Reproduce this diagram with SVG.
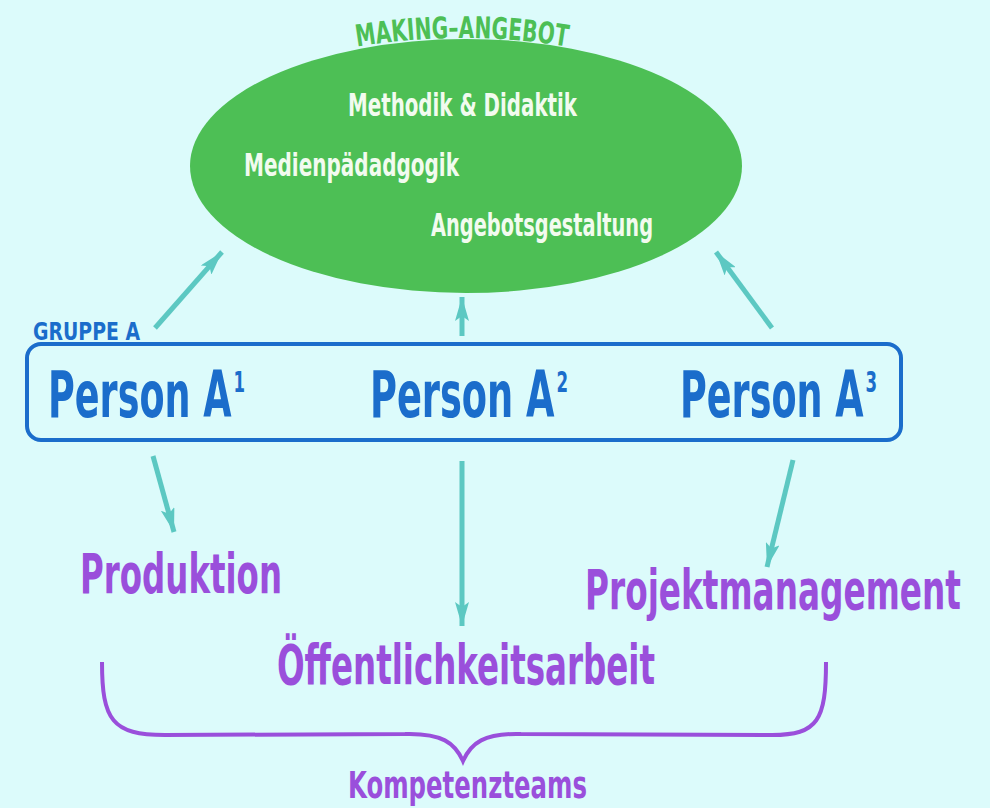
<svg xmlns="http://www.w3.org/2000/svg" width="990" height="808" viewBox="0 0 990 808">
<style>
.t{font-family:"DejaVu Sans Condensed","DejaVu Sans","Liberation Sans",sans-serif;font-weight:bold;font-stretch:condensed}
.w{fill:#f2fbef}
.b{fill:#1b6dcb}
.p{fill:#9a4fdb}
.g{fill:#4dbf55}
.arr{stroke:#5cc8c2;stroke-width:5;fill:none;marker-end:url(#ah)}
</style>
<defs>
<marker id="ah" markerUnits="userSpaceOnUse" markerWidth="26" markerHeight="14" refX="24" refY="7" orient="auto">
<path d="M0,0 L24,7 L0,14 L5,7 z" fill="#5cc8c2"/>
</marker>
<path id="arc" d="M355,47 Q462,29 570,47"/>
</defs>
<rect width="990" height="808" fill="#dcfbfb"/>
<g id="making-angebot">
<ellipse cx="466" cy="166" rx="276" ry="127" fill="#4dbf55"/>
<text class="t g" font-size="30"><textPath href="#arc" startOffset="2" textLength="211" lengthAdjust="spacingAndGlyphs">MAKING–ANGEBOT</textPath></text>
<text class="t w" x="348" y="116" font-size="32" textLength="229" lengthAdjust="spacingAndGlyphs">Methodik &amp; Didaktik</text>
<text class="t w" x="244" y="176" font-size="32" textLength="215" lengthAdjust="spacingAndGlyphs">Medienpädadgogik</text>
<text class="t w" x="431" y="236" font-size="32" textLength="222" lengthAdjust="spacingAndGlyphs">Angebotsgestaltung</text>
</g>
<g id="gruppe-a">
<text class="t b" x="33" y="340" font-size="25" textLength="107" lengthAdjust="spacingAndGlyphs">GRUPPE A</text>
<rect x="27" y="344" width="874" height="96" rx="14" fill="none" stroke="#1b6dcb" stroke-width="4"/>
</g>
<g id="person-a1">
<text class="t b" x="48" y="417" font-size="64" textLength="197" lengthAdjust="spacingAndGlyphs">Person A<tspan font-size="29" dy="-25" dx="3">1</tspan></text>
</g>
<g id="person-a2">
<text class="t b" x="370" y="417" font-size="64" textLength="198" lengthAdjust="spacingAndGlyphs">Person A<tspan font-size="29" dy="-25" dx="3">2</tspan></text>
</g>
<g id="person-a3">
<text class="t b" x="680" y="417" font-size="64" textLength="197" lengthAdjust="spacingAndGlyphs">Person A<tspan font-size="29" dy="-25" dx="3">3</tspan></text>
</g>
<g id="produktion">
<text class="t p" x="80" y="593" font-size="56" textLength="202" lengthAdjust="spacingAndGlyphs">Produktion</text>
</g>
<g id="projektmanagement">
<text class="t p" x="585" y="609" font-size="56" textLength="376" lengthAdjust="spacingAndGlyphs">Projektmanagement</text>
</g>
<g id="oeffentlichkeitsarbeit">
<text class="t p" x="277" y="684" font-size="56" textLength="378" lengthAdjust="spacingAndGlyphs">Öffentlichkeitsarbeit</text>
</g>
<g id="kompetenzteams">
<path d="M102,662 C102,720 112,735 165,735 L405,734 C442,733 455,743 463,761 C471,743 484,733 521,734 L772,735 C818,735 826,720 826,662" fill="none" stroke="#9a4fdb" stroke-width="4"/>
<text class="t p" x="348" y="798" font-size="37" textLength="239" lengthAdjust="spacingAndGlyphs">Kompetenzteams</text>
</g>
<g id="connectors">
<line class="arr" x1="155" y1="328" x2="222" y2="252"/>
<line class="arr" x1="462" y1="336" x2="462" y2="297"/>
<line class="arr" x1="772" y1="328" x2="716" y2="252"/>
<line class="arr" x1="153" y1="456" x2="174" y2="532"/>
<line class="arr" x1="462" y1="461" x2="462" y2="626"/>
<line class="arr" x1="793" y1="460" x2="767" y2="567"/>
</g>
</svg>
